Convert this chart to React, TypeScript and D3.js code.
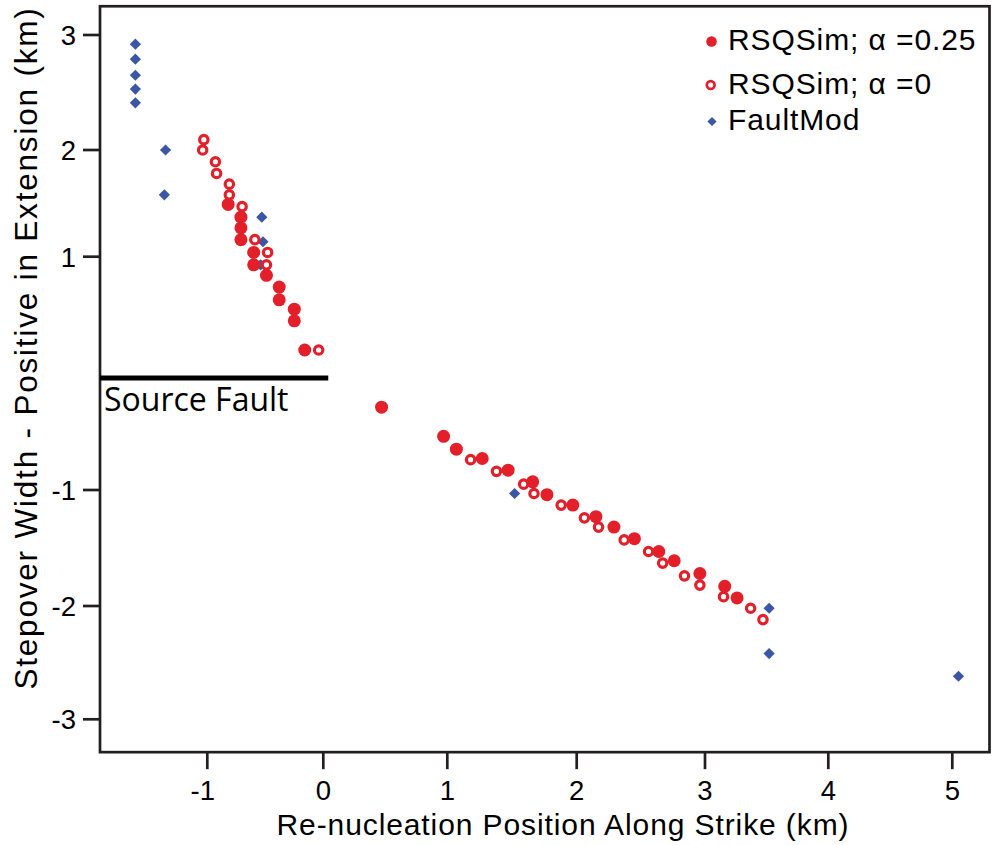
import React from "react";
import * as d3 from "d3";

// ---------- data ----------
// RSQSim, alpha = 0.25 (filled circles)
const filledX = [-0.82, -0.71, -0.71, -0.71, -0.60, -0.60, -0.49, -0.38, -0.38, -0.25, -0.25, -0.16,
  0.47, 0.97, 1.07, 1.27, 1.47, 1.66, 1.77, 1.97, 2.15, 2.29, 2.45, 2.64, 2.76, 2.96, 3.16, 3.26];
const filledY = [1.49, 1.37, 1.27, 1.16, 1.04, 0.93, 0.84, 0.74, 0.63, 0.55, 0.45, 0.20,
  -0.29, -0.54, -0.65, -0.73, -0.83, -0.93, -1.04, -1.13, -1.23, -1.32, -1.42, -1.53, -1.61, -1.72, -1.83, -1.93];

// RSQSim, alpha = 0 (open circles)
const openX = [-1.03, -1.04, -0.93, -0.92, -0.81, -0.81, -0.70, -0.59, -0.48, -0.49, -0.04,
  1.18, 1.38, 1.59, 1.67, 1.88, 2.06, 2.17, 2.37, 2.56, 2.67, 2.84, 2.96, 3.15, 3.37, 3.47];
const openY = [2.09, 2.00, 1.89, 1.78, 1.68, 1.58, 1.47, 1.16, 1.04, 0.93, 0.20,
  -0.74, -0.84, -0.95, -1.03, -1.13, -1.24, -1.32, -1.43, -1.53, -1.63, -1.74, -1.82, -1.92, -2.02, -2.12];

// FaultMod (diamonds)
const faultX = [-1.62, -1.62, -1.62, -1.62, -1.62, -1.36, -1.37, -0.53, -0.52, -0.54, 1.52, 3.52, 3.52, 5.05];
const faultY = [2.92, 2.79, 2.65, 2.53, 2.41, 2.00, 1.58, 1.37, 1.14, 0.93, -1.03, -2.02, -2.42, -2.62];

// source fault segment
const sourceFaultX = [-1.925, 0.04];
const sourceFaultY = -0.04;

// axes
const xTickValues = [-1, 0, 1, 2, 3, 4, 5];
const xTickLabels = ["-1", "0", "1", "2", "3", "4", "5"];
const yTickValues = [-3, -2, -1, 1, 2, 3];
const yTickLabels = ["-3", "-2", "-1", "1", "2", "3"];
const xExtent = [-1.925, 5.3];
const yExtent = [-3.29, 3.25];

const legendLabels = ["RSQSim; α =0.25", "RSQSim; α =0", "FaultMod"];
const xTitle = "Re-nucleation Position Along Strike (km)";
const yTitle = "Stepover Width - Positive in Extension (km)";

// ---------- styling ----------
const RED = "#e31f29";
const BLUE = "#3b56a5";
const INK = "#231f20";
const FONT = "'Liberation Sans', Arial, Helvetica, sans-serif";

export default function App() {
  const W = 992;
  const H = 845;
  // polylinear scales reproduce the (hand-placed) tick spacing of the original
  const x = d3.scaleLinear()
    .domain(xTickValues)
    .range([207.3, 323.3, 447.3, 576.7, 705, 828.3, 952.3]);
  const y = d3.scaleLinear()
    .domain(yTickValues)
    .range([719.3, 606, 490, 256.7, 150, 35]);

  const x0 = x(xExtent[0]);
  const x1 = x(xExtent[1]);
  const y0 = y(yExtent[0]);
  const y1 = y(yExtent[1]);

  const filled = filledX.map((v, i) => ({ x: v, y: filledY[i] }));
  const open = openX.map((v, i) => ({ x: v, y: openY[i] }));
  const fault = faultX.map((v, i) => ({ x: v, y: faultY[i] }));

  const diamond = (cx: number, cy: number, r: number) =>
    `M${cx},${cy - r}L${cx + r},${cy}L${cx},${cy + r}L${cx - r},${cy}Z`;

  const tickFs = 27.5;
  const digitW = tickFs * 0.556;

  return (
    <svg width={W} height={H} style={{ position: "absolute", left: 0, top: 0, background: "#fff" }}
      fontFamily={FONT}>
      <rect x={0} y={0} width={W} height={H} fill="#fff" />

      {/* frame */}
      <rect x={x0} y={y1} width={x1 - x0} height={y0 - y1} fill="none" stroke={INK} strokeWidth={2.7} />

      {/* x ticks */}
      {xTickValues.map((v, i) => (
        <g key={"xt" + v}>
          <line x1={x(v)} x2={x(v)} y1={y0} y2={y0 + 17} stroke={INK} strokeWidth={2.7} />
          <text x={x(v) + digitW / 2} y={800} textAnchor="end" fontSize={tickFs} fill="#000">
            {xTickLabels[i]}
          </text>
        </g>
      ))}

      {/* y ticks */}
      {yTickValues.map((v, i) => (
        <g key={"yt" + v}>
          <line x1={x0 - 17} x2={x0} y1={y(v)} y2={y(v)} stroke={INK} strokeWidth={2.7} />
          <text x={76} y={y(v)} dy="0.36em" textAnchor="end" fontSize={tickFs} fill="#000">
            {yTickLabels[i]}
          </text>
        </g>
      ))}

      {/* source fault */}
      <line x1={x(sourceFaultX[0])} x2={x(sourceFaultX[1])} y1={y(sourceFaultY)} y2={y(sourceFaultY)}
        stroke="#000" strokeWidth={5} />
      <text x={104} y={411} fontSize={32} fontFamily="'Open Sans', sans-serif" fill="#000">Source Fault</text>

      {/* FaultMod */}
      {fault.map((d, i) => (
        <path key={"f" + i} d={diamond(x(d.x), y(d.y), 5.6)} fill={BLUE} />
      ))}
      {/* filled circles */}
      {filled.map((d, i) => (
        <circle key={"c" + i} cx={x(d.x)} cy={y(d.y)} r={6.5} fill={RED} />
      ))}
      {/* open circles */}
      {open.map((d, i) => (
        <circle key={"o" + i} cx={x(d.x)} cy={y(d.y)} r={4.2} fill="#fff" stroke={RED} strokeWidth={3.2} />
      ))}

      {/* legend */}
      <circle cx={711.5} cy={41.5} r={5.3} fill={RED} />
      <circle cx={710.7} cy={85} r={3.9} fill="#fff" stroke={RED} strokeWidth={2.7} />
      <path d={diamond(712, 121.5, 4.6)} fill={BLUE} />
      {legendLabels.map((t, i) => (
        <text key={"l" + i} x={728} y={[50, 94, 130][i]} fontSize={30} letterSpacing={0.9} fill="#000">{t}</text>
      ))}

      {/* axis titles */}
      <text x={563} y={835} textAnchor="middle" fontSize={30} letterSpacing={0.9} fill="#000">{xTitle}</text>
      <text transform={`translate(37,348) rotate(-90)`} textAnchor="middle" fontSize={31.5} letterSpacing={1.8} fill="#000">
        {yTitle}
      </text>
    </svg>
  );
}
